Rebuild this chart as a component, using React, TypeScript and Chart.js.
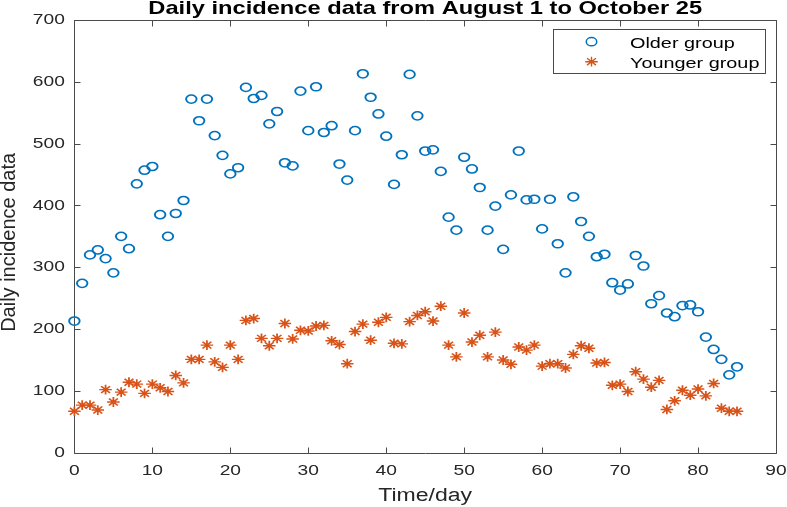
import React, { useEffect, useRef } from "react";
import { Chart, registerables } from "chart.js";

Chart.register(...registerables);

const titleText = "Daily incidence data from August 1 to October 25";
const xLabel = "Time/day";
const yLabel = "Daily incidence data";
const seriesNames = ["Older group", "Younger group"];

const olderGroup = [
  213, 274, 320, 328, 314, 291, 350, 330, 435, 457,
  463, 385, 350, 387, 408, 572, 537, 572, 513, 481,
  451, 461, 591, 573, 578, 532, 552, 469, 464, 585,
  521, 592, 518, 529, 467, 441, 521, 613, 575, 548,
  512, 434, 482, 612, 545, 488, 490, 455, 381, 360,
  478, 459, 429, 360, 399, 329, 417, 488, 409, 410,
  362, 410, 338, 291, 414, 374, 350, 317, 321, 275,
  263, 273, 319, 302, 241, 254, 226, 220, 238, 239,
  228, 187, 167, 151, 126, 139,
];

const youngerGroup = [
  67, 77, 77, 69, 102, 82, 98, 114, 111, 96,
  111, 105, 99, 125, 113, 151, 151, 174, 147, 138,
  174, 151, 214, 217, 185, 173, 185, 209, 184, 198,
  197, 205, 206, 181, 175, 144, 196, 208, 182, 211,
  219, 177, 176, 212, 222, 228, 213, 237, 174, 155,
  226, 179, 190, 155, 195, 150, 143, 171, 166, 174,
  140, 144, 144, 137, 159, 173, 169, 145, 146, 109,
  111, 99, 131, 119, 106, 117, 70, 84, 101, 93,
  103, 92, 112, 72, 67, 67,
];

const xMin = 0;
const xMax = 90;
const xStep = 10;
const yMin = 0;
const yMax = 700;
const yStep = 100;

const PW = 787;
const PH = 507;
const LW = 615;
const SX = PW / LW;

const BLUE = "#0072BD";
const ORANGE = "#D95319";
const AXIS = "#262626";
const FONT = "'Liberation Sans', Arial, Helvetica, sans-serif";

const stretchPlugin = {
  id: "stretch",
  beforeDraw(chart: any) {
    const c = chart.canvas as HTMLCanvasElement;
    if (c.width !== PW) c.width = PW;
    if (c.height !== PH) c.height = PH;
    const ctx = chart.ctx;
    ctx.setTransform(1, 0, 0, 1, 0, 0);
    ctx.fillStyle = "#ffffff";
    ctx.fillRect(0, 0, PW, PH);
    ctx.setTransform(SX, 0, 0, 1, 0, 0);
  },
};

const framePlugin = {
  id: "frame",
  beforeDatasetsDraw(chart: any) {
    const ctx = chart.ctx as CanvasRenderingContext2D;
    const a = chart.chartArea;
    const xs = chart.scales.x;
    const ys = chart.scales.y;
    ctx.save();
    ctx.setTransform(1, 0, 0, 1, 0, 0);
    const L = Math.round(a.left * SX) + 0.5;
    const R = Math.round(a.right * SX) + 0.5;
    const T = Math.round(a.top) + 0.5;
    const B = Math.round(a.bottom) + 0.5;
    ctx.strokeStyle = "#4a4a4a";
    ctx.lineWidth = 1;
    ctx.beginPath();
    ctx.rect(L, T, R - L, B - T);
    const tl = 6;
    xs.ticks.forEach((t: any) => {
      const px = Math.round(xs.getPixelForValue(t.value) * SX) + 0.5;
      ctx.moveTo(px, B);
      ctx.lineTo(px, B - tl);
      ctx.moveTo(px, T);
      ctx.lineTo(px, T + tl);
    });
    ys.ticks.forEach((t: any) => {
      const py = Math.round(ys.getPixelForValue(t.value)) + 0.5;
      ctx.moveTo(L, py);
      ctx.lineTo(L + tl, py);
      ctx.moveTo(R, py);
      ctx.lineTo(R - tl, py);
    });
    ctx.stroke();
    ctx.restore();
  },
  afterDraw(chart: any) {
    const ctx = chart.ctx as CanvasRenderingContext2D;
    const a = chart.chartArea;
    ctx.save();
    // title (stretched)
    ctx.setTransform(SX, 0, 0, 1, 0, 0);
    ctx.fillStyle = "#000000";
    ctx.font = `bold 18.5px ${FONT}`;
    ctx.textAlign = "center";
    ctx.textBaseline = "alphabetic";
    ctx.fillText(titleText, (a.left + a.right) / 2, 13.6);
    // x label
    ctx.fillStyle = AXIS;
    ctx.font = `18px ${FONT}`;
    ctx.fillText(xLabel, (a.left + a.right) / 2, 501);

    // y label (unstretched)
    ctx.setTransform(1, 0, 0, 1, 0, 0);
    ctx.translate(15, (a.top + a.bottom) / 2 + 6);
    ctx.rotate(-Math.PI / 2);
    ctx.font = `20px ${FONT}`;
    ctx.textAlign = "center";
    ctx.fillText(yLabel, 0, 0);
    ctx.setTransform(1, 0, 0, 1, 0, 0);

    // legend box
    const bx = 553.5, by = 29.5, bw = 212, bh = 44;
    ctx.fillStyle = "#ffffff";
    ctx.fillRect(bx, by, bw, bh);
    ctx.strokeStyle = "#4a4a4a";
    ctx.lineWidth = 1;
    ctx.strokeRect(bx, by, bw, bh);
    // legend markers
    const mx = 591.5;
    ctx.strokeStyle = BLUE;
    ctx.lineWidth = 1.5;
    ctx.beginPath();
    ctx.ellipse(mx, 41.7, 4.1 * SX, 4.1, 0, 0, Math.PI * 2);
    ctx.stroke();
    ctx.strokeStyle = ORANGE;
    ctx.lineWidth = 1.4;
    const sy = 61.7, r = 4.9, rx = r * SX, d = r * Math.SQRT1_2;
    ctx.beginPath();
    ctx.moveTo(mx - rx, sy); ctx.lineTo(mx + rx, sy);
    ctx.moveTo(mx, sy - r); ctx.lineTo(mx, sy + r);
    ctx.moveTo(mx - d * SX, sy - d); ctx.lineTo(mx + d * SX, sy + d);
    ctx.moveTo(mx - d * SX, sy + d); ctx.lineTo(mx + d * SX, sy - d);
    ctx.stroke();
    // legend text (stretched)
    ctx.setTransform(SX, 0, 0, 1, 0, 0);
    ctx.fillStyle = "#000000";
    ctx.font = `15.5px ${FONT}`;
    ctx.textAlign = "left";
    ctx.textBaseline = "alphabetic";
    ctx.fillText(seriesNames[0], 630 / SX, 48.3);
    ctx.fillText(seriesNames[1], 630 / SX, 68);
    ctx.restore();
  },
};

export default function App() {
  const ref = useRef<HTMLCanvasElement | null>(null);
  useEffect(() => {
    if (!ref.current) return;
    const olderPts = olderGroup.map((v, i) => ({ x: i, y: v }));
    const youngerPts = youngerGroup.map((v, i) => ({ x: i, y: v }));
    const chart = new Chart(ref.current, {
      type: "scatter",
      data: {
        datasets: [
          {
            label: seriesNames[0],
            data: olderPts,
            pointStyle: "circle",
            pointRadius: 4.1,
            pointBorderWidth: 1.5,
            borderColor: BLUE,
            pointBorderColor: BLUE,
            pointBackgroundColor: "rgba(0,0,0,0)",
            backgroundColor: "rgba(0,0,0,0)",
            showLine: false,
            clip: false as any,
          },
          {
            label: seriesNames[1],
            data: youngerPts,
            pointStyle: "star",
            pointRadius: 4.9,
            pointBorderWidth: 1.4,
            borderColor: ORANGE,
            pointBorderColor: ORANGE,
            pointBackgroundColor: ORANGE,
            backgroundColor: ORANGE,
            showLine: false,
            clip: false as any,
          },
        ],
      },
      options: {
        responsive: false,
        animation: false,
        devicePixelRatio: 1,
        events: [],
        layout: {
          padding: { left: 0, top: 20, right: LW - 776 / SX, bottom: 0 },
        },
        plugins: {
          legend: { display: false },
          title: { display: false },
          tooltip: { enabled: false },
        },
        scales: {
          x: {
            type: "linear",
            min: xMin,
            max: xMax,
            grid: { display: false, drawTicks: false },
            border: { display: false },
            ticks: {
              stepSize: xStep,
              padding: 9,
              color: AXIS,
              font: { family: FONT, size: 15 },
              maxRotation: 0,
            },
            afterFit: (s: any) => {
              s.height = PH - 452.7;
              s.paddingLeft = 0;
              s.paddingRight = 0;
            },
          },
          y: {
            type: "linear",
            min: yMin,
            max: yMax,
            grid: { display: false, drawTicks: false },
            border: { display: false },
            ticks: {
              stepSize: yStep,
              padding: 7.5,
              color: AXIS,
              font: { family: FONT, size: 15 },
            },
            afterFit: (s: any) => {
              s.width = 74.4 / SX;
              s.paddingTop = 0;
              s.paddingBottom = 0;
            },
          },
        },
      },
      plugins: [stretchPlugin, framePlugin],
    });
    return () => chart.destroy();
  }, []);
  return (
    <div style={{ position: "fixed", left: 0, top: 0, width: PW, height: PH, background: "#fff" }}>
      <canvas
        ref={ref}
        width={LW}
        height={PH}
        style={{ width: PW + "px", height: PH + "px", display: "block" }}
      />
    </div>
  );
}
